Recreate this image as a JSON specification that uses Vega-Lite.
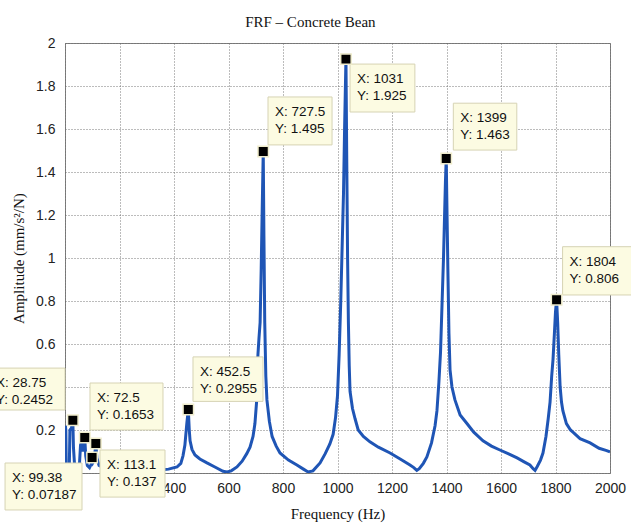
{
  "$schema": "https://vega.github.io/schema/vega-lite/v6.json",
  "width": 545,
  "height": 430,
  "autosize": "none",
  "padding": {"left": 65, "top": 43, "right": 21, "bottom": 50},
  "background": "white",
  "title": {"text": "FRF – Concrete Bean", "font": "Liberation Serif", "fontSize": 15, "fontWeight": "normal", "color": "#111", "anchor": "middle", "frame": "bounds", "offset": 6},
  "config": {
    "view": {"stroke": "#808080", "strokeWidth": 1},
    "axis": {
      "grid": true, "gridColor": "#6a6a6a", "gridDash": [1, 2], "gridWidth": 1, "gridOpacity": 0.9,
      "ticks": false, "domain": false, "labelFlush": false, "labelOverlap": false,
      "labelFont": "Liberation Sans", "labelFontSize": 14, "labelColor": "#222",
      "titleFont": "Liberation Serif", "titleFontSize": 15, "titleFontWeight": "normal", "titleColor": "#111"
    }
  },
  "datasets": {
    "curve": [
      {"f": 0, "a": 0.03}, {"f": 1.5, "a": 0.22}, {"f": 3, "a": 0.2}, {"f": 4.5, "a": 0.04}, {"f": 10, "a": 0.03},
      {"f": 16, "a": 0.04}, {"f": 18, "a": 0.2}, {"f": 24, "a": 0.21}, {"f": 28.75, "a": 0.2452}, {"f": 31, "a": 0.12},
      {"f": 35, "a": 0.04}, {"f": 45, "a": 0.03}, {"f": 53, "a": 0.04}, {"f": 57, "a": 0.13}, {"f": 62, "a": 0.15},
      {"f": 66, "a": 0.1}, {"f": 72.5, "a": 0.1653}, {"f": 76, "a": 0.08}, {"f": 82, "a": 0.035}, {"f": 90, "a": 0.025},
      {"f": 96, "a": 0.04}, {"f": 99.38, "a": 0.07187}, {"f": 103, "a": 0.05}, {"f": 107, "a": 0.06}, {"f": 113.1, "a": 0.137},
      {"f": 117, "a": 0.07}, {"f": 125, "a": 0.035}, {"f": 140, "a": 0.025}, {"f": 170, "a": 0.02}, {"f": 210, "a": 0.016},
      {"f": 260, "a": 0.013}, {"f": 310, "a": 0.012}, {"f": 350, "a": 0.014}, {"f": 380, "a": 0.018}, {"f": 411, "a": 0.028},
      {"f": 425, "a": 0.045}, {"f": 433, "a": 0.08}, {"f": 440, "a": 0.13}, {"f": 447, "a": 0.23}, {"f": 452.5, "a": 0.2955},
      {"f": 456, "a": 0.2}, {"f": 459, "a": 0.15}, {"f": 466, "a": 0.11}, {"f": 477, "a": 0.084}, {"f": 495, "a": 0.065},
      {"f": 521, "a": 0.047}, {"f": 550, "a": 0.028}, {"f": 580, "a": 0.008}, {"f": 595, "a": 0.005}, {"f": 610, "a": 0.01},
      {"f": 631, "a": 0.028}, {"f": 650, "a": 0.055}, {"f": 667, "a": 0.09}, {"f": 679, "a": 0.12}, {"f": 690, "a": 0.17},
      {"f": 697, "a": 0.23}, {"f": 703, "a": 0.33}, {"f": 708, "a": 0.55}, {"f": 712, "a": 0.63}, {"f": 716, "a": 0.7},
      {"f": 720, "a": 0.95}, {"f": 724, "a": 1.25}, {"f": 727.5, "a": 1.495}, {"f": 730, "a": 1.1}, {"f": 733, "a": 0.7},
      {"f": 737, "a": 0.45}, {"f": 741, "a": 0.34}, {"f": 750, "a": 0.24}, {"f": 760, "a": 0.17}, {"f": 775, "a": 0.125},
      {"f": 789, "a": 0.093}, {"f": 820, "a": 0.06}, {"f": 851, "a": 0.037}, {"f": 875, "a": 0.018}, {"f": 892, "a": 0.005},
      {"f": 910, "a": 0.01}, {"f": 936, "a": 0.047}, {"f": 955, "a": 0.09}, {"f": 972, "a": 0.135}, {"f": 984, "a": 0.18},
      {"f": 993, "a": 0.26}, {"f": 1000, "a": 0.36}, {"f": 1006, "a": 0.55}, {"f": 1012, "a": 0.8}, {"f": 1018, "a": 1.1},
      {"f": 1022, "a": 1.3}, {"f": 1026, "a": 1.6}, {"f": 1031, "a": 1.925}, {"f": 1034, "a": 1.45}, {"f": 1037, "a": 1.0},
      {"f": 1040, "a": 0.7}, {"f": 1043, "a": 0.5}, {"f": 1046, "a": 0.38}, {"f": 1055, "a": 0.3}, {"f": 1065, "a": 0.25},
      {"f": 1076, "a": 0.2}, {"f": 1095, "a": 0.17}, {"f": 1119, "a": 0.145}, {"f": 1150, "a": 0.12}, {"f": 1193, "a": 0.093},
      {"f": 1230, "a": 0.065}, {"f": 1266, "a": 0.037}, {"f": 1280, "a": 0.025}, {"f": 1291, "a": 0.012}, {"f": 1300, "a": 0.02},
      {"f": 1315, "a": 0.045}, {"f": 1328, "a": 0.075}, {"f": 1345, "a": 0.14}, {"f": 1358, "a": 0.22}, {"f": 1365, "a": 0.29},
      {"f": 1372, "a": 0.42}, {"f": 1378, "a": 0.56}, {"f": 1384, "a": 0.8}, {"f": 1389, "a": 1.0}, {"f": 1393, "a": 1.2},
      {"f": 1396, "a": 1.35}, {"f": 1399, "a": 1.463}, {"f": 1402, "a": 1.2}, {"f": 1405, "a": 0.95}, {"f": 1409, "a": 0.65},
      {"f": 1413, "a": 0.48}, {"f": 1420, "a": 0.4}, {"f": 1431, "a": 0.34}, {"f": 1450, "a": 0.27}, {"f": 1475, "a": 0.23},
      {"f": 1500, "a": 0.19}, {"f": 1534, "a": 0.15}, {"f": 1565, "a": 0.125}, {"f": 1596, "a": 0.107}, {"f": 1630, "a": 0.088},
      {"f": 1659, "a": 0.07}, {"f": 1685, "a": 0.052}, {"f": 1706, "a": 0.037}, {"f": 1718, "a": 0.02}, {"f": 1725, "a": 0.012},
      {"f": 1733, "a": 0.03}, {"f": 1745, "a": 0.06}, {"f": 1754, "a": 0.093}, {"f": 1765, "a": 0.17}, {"f": 1773, "a": 0.25},
      {"f": 1780, "a": 0.33}, {"f": 1786, "a": 0.45}, {"f": 1791, "a": 0.53}, {"f": 1796, "a": 0.65}, {"f": 1800, "a": 0.75},
      {"f": 1804, "a": 0.806}, {"f": 1808, "a": 0.7}, {"f": 1812, "a": 0.55}, {"f": 1817, "a": 0.4}, {"f": 1822, "a": 0.33},
      {"f": 1827, "a": 0.29}, {"f": 1840, "a": 0.23}, {"f": 1855, "a": 0.2}, {"f": 1864, "a": 0.19}, {"f": 1890, "a": 0.16},
      {"f": 1927, "a": 0.14}, {"f": 1960, "a": 0.115}, {"f": 1985, "a": 0.105}, {"f": 2000, "a": 0.098}
    ],
    "tips": [
      {"f": 28.75, "a": 0.2452, "x0": -279, "x1": 0, "y0": 0.488, "y1": 0.293, "l1": "X: 28.75", "l2": "Y: 0.2452"},
      {"f": 72.5, "a": 0.1653, "x0": 91.7, "x1": 359.6, "y0": 0.4186, "y1": 0.2, "l1": "X: 72.5", "l2": "Y: 0.1653"},
      {"f": 99.38, "a": 0.07187, "x0": -220, "x1": 62.4, "y0": 0.0465, "y1": -0.172, "l1": "X: 99.38", "l2": "Y: 0.07187"},
      {"f": 113.1, "a": 0.137, "x0": 128.4, "x1": 367, "y0": 0.107, "y1": -0.112, "l1": "X: 113.1", "l2": "Y: 0.137"},
      {"f": 452.5, "a": 0.2955, "x0": 469.7, "x1": 726.6, "y0": 0.54, "y1": 0.333, "l1": "X: 452.5", "l2": "Y: 0.2955"},
      {"f": 727.5, "a": 1.495, "x0": 745, "x1": 980, "y0": 1.749, "y1": 1.526, "l1": "X: 727.5", "l2": "Y: 1.495"},
      {"f": 1031, "a": 1.925, "x0": 1046, "x1": 1284, "y0": 1.902, "y1": 1.679, "l1": "X: 1031", "l2": "Y: 1.925"},
      {"f": 1399, "a": 1.463, "x0": 1425, "x1": 1658, "y0": 1.72, "y1": 1.502, "l1": "X: 1399", "l2": "Y: 1.463"},
      {"f": 1804, "a": 0.806, "x0": 1826, "x1": 2080, "y0": 1.0526, "y1": 0.828, "l1": "X: 1804", "l2": "Y: 0.806"}
    ]
  },
  "layer": [
    {
      "data": {"name": "curve"},
      "mark": {"type": "line", "color": "#1f55b5", "strokeWidth": 3, "clip": true},
      "encoding": {
        "x": {"field": "f", "type": "quantitative", "scale": {"domain": [0, 2000], "nice": false}, "axis": {"title": "Frequency (Hz)", "values": [0, 200, 400, 600, 800, 1000, 1200, 1400, 1600, 1800, 2000], "labelExpr": "datum.value < 300 ? '' : format(datum.value, 'd')", "labelPadding": 8, "titlePadding": 11}},
        "y": {"field": "a", "type": "quantitative", "scale": {"domain": [0, 2], "nice": false}, "axis": {"title": "Amplitude (mm/s²/N)", "values": [0, 0.2, 0.4, 0.6, 0.8, 1, 1.2, 1.4, 1.6, 1.8, 2], "labelExpr": "(datum.value < 0.1 || (datum.value > 0.3 && datum.value < 0.5)) ? '' : format(datum.value, '~g')", "labelPadding": 10, "titlePadding": 9}}
      }
    },
    {
      "data": {"name": "tips"},
      "mark": {"type": "rect", "fill": "#fcfbe2", "stroke": "#d6d3b4", "strokeWidth": 1},
      "encoding": {
        "x": {"field": "x0", "type": "quantitative", "scale": {"domain": [0, 2000], "nice": false}},
        "x2": {"field": "x1"},
        "y": {"field": "y0", "type": "quantitative", "scale": {"domain": [0, 2], "nice": false}},
        "y2": {"field": "y1"}
      }
    },
    {
      "data": {"name": "tips"},
      "mark": {"type": "text", "align": "left", "baseline": "middle", "dx": 7, "dy": 15, "font": "Liberation Sans", "fontSize": 13.5, "color": "#111"},
      "encoding": {
        "x": {"field": "x0", "type": "quantitative", "scale": {"domain": [0, 2000], "nice": false}},
        "y": {"field": "y0", "type": "quantitative", "scale": {"domain": [0, 2], "nice": false}},
        "text": {"field": "l1"}
      }
    },
    {
      "data": {"name": "tips"},
      "mark": {"type": "text", "align": "left", "baseline": "middle", "dx": 7, "dy": 32, "font": "Liberation Sans", "fontSize": 13.5, "color": "#111"},
      "encoding": {
        "x": {"field": "x0", "type": "quantitative", "scale": {"domain": [0, 2000], "nice": false}},
        "y": {"field": "y0", "type": "quantitative", "scale": {"domain": [0, 2], "nice": false}},
        "text": {"field": "l2"}
      }
    },
    {
      "data": {"name": "tips"},
      "mark": {"type": "point", "shape": "square", "filled": true, "size": 110, "color": "#000", "stroke": "#efeccc", "strokeWidth": 1.5, "opacity": 1},
      "encoding": {
        "x": {"field": "f", "type": "quantitative", "scale": {"domain": [0, 2000], "nice": false}},
        "y": {"field": "a", "type": "quantitative", "scale": {"domain": [0, 2], "nice": false}}
      }
    }
  ]
}
